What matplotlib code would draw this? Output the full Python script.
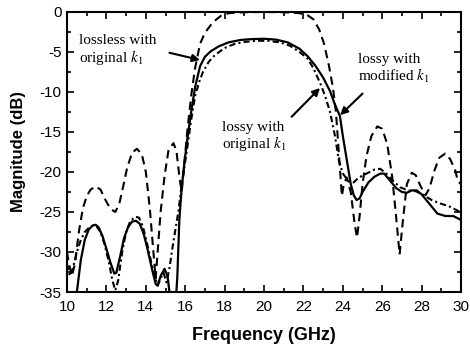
import matplotlib
matplotlib.use("Agg")
import matplotlib.pyplot as plt
import numpy as np

plt.rcParams['axes.unicode_minus'] = False
plt.rcParams['mathtext.fontset'] = 'stix'

# lossless with original k1 (dashed)
f_lossless = [10.0, 10.1, 10.25, 10.4, 10.6, 10.8, 11.0, 11.2, 11.45, 11.7, 11.95, 12.2,
              12.45, 12.65, 12.85, 13.05, 13.3, 13.55, 13.8, 14.0, 14.2, 14.35, 14.5, 14.6,
              14.75, 14.95, 15.15, 15.4, 15.55, 15.7, 15.82, 15.95, 16.1, 16.3, 16.5, 16.75,
              17.0, 17.4, 17.8, 18.2, 19.0, 20.0, 21.0, 21.8, 22.2, 22.5, 22.8, 23.05, 23.3,
              23.5, 23.65, 23.75, 23.85, 23.95, 24.05, 24.2, 24.4, 24.6, 24.72, 24.85, 25.0,
              25.2, 25.45, 25.75, 26.0, 26.25, 26.5, 26.7, 26.88, 27.05, 27.25, 27.5, 27.7,
              27.95, 28.2, 28.4, 28.65, 28.9, 29.2, 29.45, 29.7, 29.85, 30.0]
m_lossless = [-30, -31.5, -33, -31.5, -27.5, -24.6, -23, -22.2, -21.8, -22.2, -23.5, -24.6,
              -25, -24, -21.8, -19.5, -17.6, -17.1, -17.8, -20, -24.5, -29, -33.3, -30,
              -25, -20.5, -17.3, -16.4, -17.3, -20.5, -22.5, -19, -15, -10.5, -7, -4,
              -2.6, -1.3, -0.5, -0.15, -0.03, 0, -0.03, -0.15, -0.4, -0.9, -2.2, -4, -6.8,
              -9.5, -12.5, -16, -19.5, -23, -21.5, -20.7, -22.5, -26.5, -28.2, -25.5, -21.5,
              -18, -15.5, -14.3, -14.6, -16.5, -20.5, -25.5, -30.3, -26, -21.5, -20.1, -20.4,
              -21.8, -22.9, -22, -19.8, -18.2, -17.7, -18.4, -19.8, -21.2, -21.5]

# lossy with original k1 (dash-dot)
f_orig = [10.0, 10.15, 10.3, 10.5, 10.7, 10.9, 11.1, 11.3, 11.5, 11.7, 11.9, 12.1, 12.3,
          12.45, 12.6, 12.8, 13.0, 13.2, 13.45, 13.65, 13.85, 14.05, 14.25, 14.45, 14.6,
          14.75, 14.9, 15.05, 15.2, 15.35, 15.5, 15.65, 15.8, 15.95, 16.1, 16.3, 16.5, 16.7,
          16.9, 17.2, 17.5, 18.0, 18.5, 19.0, 19.6, 20.2, 20.8, 21.3, 21.8, 22.2, 22.5,
          22.85, 23.1, 23.35, 23.6, 23.8, 24.0, 24.3, 24.55, 24.8, 25.2, 25.6, 25.9, 26.2,
          26.5, 26.9, 27.3, 27.7, 28.1, 28.5, 28.9, 29.4, 29.8, 30.0]
m_orig = [-31.5, -33, -32, -30, -28.5, -27.5, -27, -26.7, -26.8, -27.5, -29, -31, -33.5,
          -34.8, -33.5, -30, -27.5, -26.2, -25.6, -25.7, -26.8, -28.8, -31, -33, -34.2,
          -33.3, -32.6, -33.8, -32, -29.5, -27.2, -25, -22, -19.5, -17, -13.5, -10.5, -8.8,
          -7.5, -6.2, -5.4, -4.5, -4.0, -3.75, -3.6, -3.6, -3.8, -4.2, -5, -5.8, -7,
          -8.9, -10.5, -12.5, -15.5, -18.6, -20.2, -21.2, -21.3, -20.7, -20.2, -19.7, -19.6, -20.2,
          -21, -21.9, -22.3, -22.4, -22.9, -23.5, -23.9, -24.3, -24.8, -25.1]

# lossy with modified k1 (solid)
f_mod = [10.5, 10.7, 10.9, 11.1, 11.3, 11.45, 11.6, 11.8, 12.0, 12.2, 12.4, 12.5, 12.7,
         12.9, 13.1, 13.3, 13.5, 13.7, 13.9, 14.1, 14.3, 14.5, 14.6, 14.75, 14.95, 15.1,
         15.2, 15.35, 15.5, 15.6, 15.7, 15.82, 15.95, 16.1, 16.3, 16.5, 16.75, 17.0, 17.3,
         17.7, 18.2, 18.8, 19.3, 20.0, 20.6, 21.2, 21.8, 22.2, 22.6, 23.0, 23.35, 23.6,
         23.85, 24.0, 24.2, 24.4, 24.55, 24.7, 24.85, 25.0, 25.3, 25.6, 25.9, 26.1, 26.4,
         26.7, 27.0, 27.25, 27.5, 27.75, 28.0, 28.4, 28.8, 29.2, 29.6, 30.0]
m_mod = [-35, -31, -28.5, -27.2, -26.7, -26.6, -26.9, -28, -29.6, -31.3, -32.7, -32.6, -30.5,
         -28.2, -26.9, -26.2, -26.1, -26.5, -27.8, -29.8, -32, -34, -34.2, -33, -32.1, -33,
         -35, -38, -37, -33, -26, -22, -19, -16, -12.5, -9.4, -6.8, -5.6, -4.9,
         -4.3, -3.8, -3.5, -3.4, -3.35, -3.45, -3.8, -4.6, -5.5, -6.7, -8.2, -9.9, -11.6,
         -13, -15.5, -18.5, -21.5, -22.9, -23.5, -23.3, -22.5, -21.3, -20.6, -20.2, -20.2, -21.1,
         -22, -22.5, -22.6, -22.3, -22.3, -22.8, -24, -25.2, -25.5, -25.5, -26]

fig = plt.figure(figsize=(4.7, 3.47), dpi=100)
ax = fig.add_axes([0.1426, 0.1585, 0.8384, 0.807])

ax.plot(f_lossless, m_lossless, color='black', lw=1.5, linestyle=(0, (4, 2.5)))
ax.plot(f_orig, m_orig, color='black', lw=1.5, linestyle=(0, (3, 1.5, 1, 1.5)))
ax.plot(f_mod, m_mod, color='black', lw=1.6, linestyle='-')

ax.set_xlim(10, 30)
ax.set_ylim(-35, 0)
ax.set_xticks(np.arange(10, 31, 2))
ax.set_xticks(np.arange(10, 31, 1), minor=True)
ax.set_yticks(np.arange(-35, 1, 5))
ax.set_yticks(np.arange(-35, 1, 2.5), minor=True)
ax.tick_params(which='both', direction='in', top=True, right=True, width=1.2)
ax.tick_params(which='major', length=5, labelsize=11)
ax.tick_params(axis='x', which='major', pad=6)
ax.tick_params(axis='y', which='major', pad=4)
ax.tick_params(which='minor', length=3)
for lab in ax.get_xticklabels() + ax.get_yticklabels():
    lab.set_fontfamily('Liberation Sans')
for s in ax.spines.values():
    s.set_linewidth(1.5)

ax.set_xlabel('Frequency (GHz)', fontsize=13, fontweight='bold', family='Liberation Sans', labelpad=9)
ax.set_ylabel('Magnitude (dB)', fontsize=12, fontweight='bold', family='Liberation Sans', labelpad=10)

tfont = dict(fontsize=11, family='Liberation Serif', va='top', ha='left', linespacing=1.05)
ax.text(10.6, -2.8, 'lossless with\noriginal $k_1$', **tfont)
ax.text(24.75, -5.1, 'lossy with\nmodified $k_1$', **tfont)
ax.text(17.85, -13.6, 'lossy with\noriginal $k_1$', **tfont)

arr = dict(arrowstyle='-|>', color='black', lw=1.5, mutation_scale=11, shrinkA=0, shrinkB=0)
ax.annotate('', xy=(16.75, -6.0), xytext=(15.2, -5.1), arrowprops=arr)
ax.annotate('', xy=(22.84, -9.5), xytext=(21.4, -13.1), arrowprops=arr)
ax.annotate('', xy=(23.86, -12.9), xytext=(25.0, -10.2), arrowprops=arr)

fig.savefig('out.png', dpi=100)
